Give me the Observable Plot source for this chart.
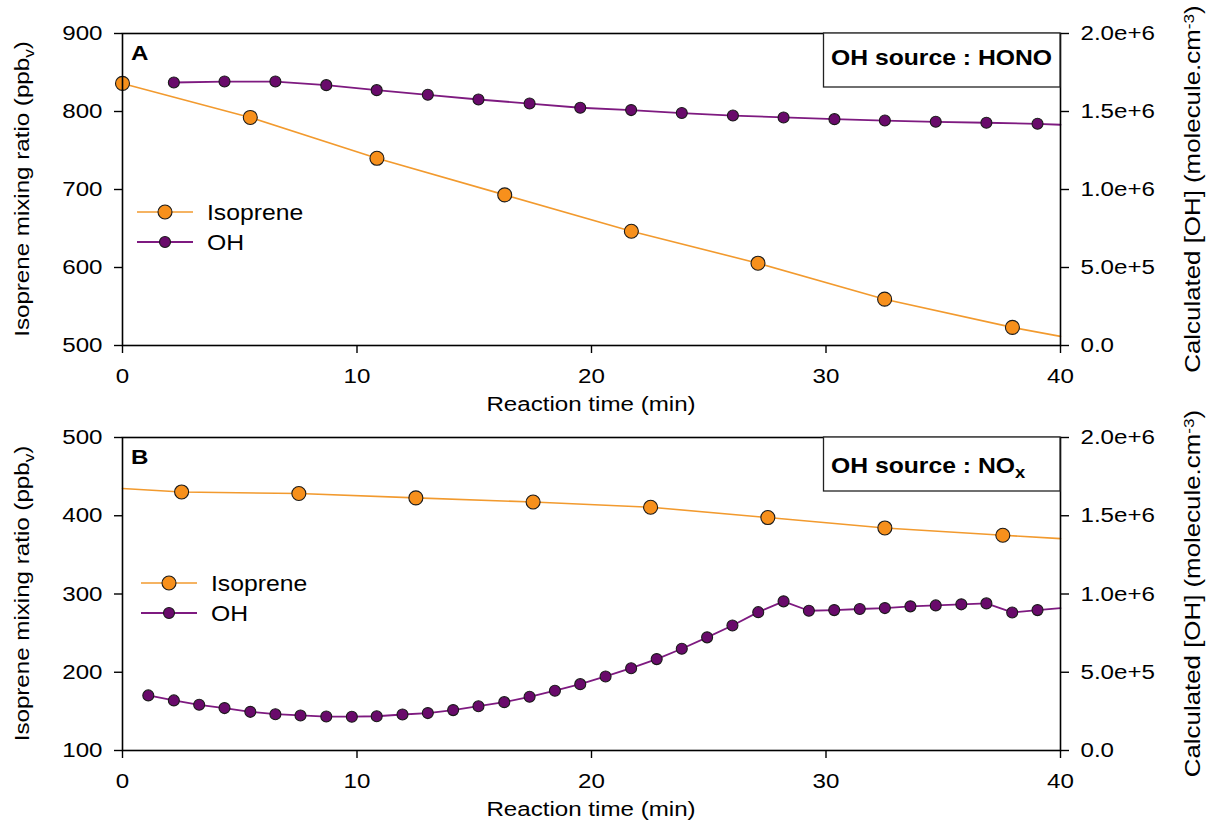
<!DOCTYPE html>
<html><head><meta charset="utf-8">
<script src="https://cdn.jsdelivr.net/npm/d3@7"></script>
<script src="https://cdn.jsdelivr.net/npm/@observablehq/plot@0.6"></script>
<style>
body{margin:0;background:#fff;}
svg{display:block;}
</style></head><body><div id="chart"></div>
<script>
// ---------- data ----------
const xTicks = [0, 10, 20, 30, 40];
const ohTicks = [0, 5e5, 1e6, 1.5e6, 2e6];
const ohTickLabels = ["0.0", "5.0e+5", "1.0e+6", "1.5e+6", "2.0e+6"];
const ohMax = 2e6;

// Panel A (OH source: HONO)
const yTicksA = [500, 600, 700, 800, 900];
const timeIsoA = [0, 5.45, 10.85, 16.3, 21.7, 27.1, 32.5, 37.95];
const isoA = [836, 792.4, 740, 693.1, 646.5, 605.5, 559.4, 523.2];
const timeOhA = [2.19, 4.35, 6.52, 8.69, 10.84, 13.02, 15.18, 17.36, 19.52, 21.69, 23.85, 26.03, 28.19, 30.36, 32.51, 34.68, 36.84, 39.02];
const ohA = [1.686e6, 1.692e6, 1.692e6, 1.669e6, 1.637e6, 1.607e6, 1.577e6, 1.551e6, 1.524e6, 1.509e6, 1.490e6, 1.474e6, 1.462e6, 1.451e6, 1.442e6, 1.434e6, 1.428e6, 1.421e6];
// curve ends (at the plot edges)
const isoEndsA = [[40, 511.7]];
const ohEndsA = [[40, 1.415e6]];

// Panel B (OH source: NOx)
const yTicksB = [100, 200, 300, 400, 500];
const timeIsoB = [2.52, 7.52, 12.51, 17.51, 22.52, 27.52, 32.51, 37.54];
const isoB = [430.4, 428.4, 422.8, 417.6, 410.9, 397.7, 384.4, 375.1];
const timeOhB = [1.10, 2.19, 3.27, 4.35, 5.45, 6.52, 7.59, 8.69, 9.78, 10.84, 11.94, 13.02, 14.10, 15.18, 16.28, 17.36, 18.44, 19.52, 20.60, 21.69, 22.78, 23.85, 24.93, 26.01, 27.11, 28.19, 29.27, 30.35, 31.44, 32.51, 33.60, 34.68, 35.77, 36.84, 37.94, 39.02];
const ohB = [3.52e5, 3.20e5, 2.92e5, 2.71e5, 2.47e5, 2.32e5, 2.24e5, 2.17e5, 2.16e5, 2.19e5, 2.30e5, 2.39e5, 2.58e5, 2.83e5, 3.09e5, 3.43e5, 3.82e5, 4.24e5, 4.73e5, 5.26e5, 5.84e5, 6.50e5, 7.23e5, 7.99e5, 8.84e5, 9.53e5, 8.93e5, 8.97e5, 9.04e5, 9.10e5, 9.21e5, 9.27e5, 9.34e5, 9.40e5, 8.82e5, 8.97e5];
const isoEndsB = [[0, 434.8], [40, 370.8]];
const ohEndsB = [[40, 9.10e5]];

// ---------- style ----------
const ORANGE_LINE = "#f29a2e", ORANGE_DOT = "#f7901c";
const PURPLE_LINE = "#7e1a80", PURPLE_DOT = "#690a6b";
const FONT = "'Liberation Sans', Arial, Helvetica, sans-serif";
const STRETCH = 1.15;

function stretchText(svg, s) {
  svg.querySelectorAll("text").forEach(t => {
    const xa = t.getAttribute("x"), ya = t.getAttribute("y");
    let tx = 0, ty = 0;
    if (xa && /^-?[\d.]+$/.test(xa)) { tx = +xa; t.removeAttribute("x"); }
    if (ya && /^-?[\d.]+$/.test(ya)) { ty = +ya; t.removeAttribute("y"); }
    const tr = t.getAttribute("transform") || "";
    t.setAttribute("transform", `${tr} translate(${tx},${ty}) scale(${s},1)`);
  });
}

function panel(cfg) {
  const [y0, y1] = cfg.yDomain;
  const toLeft = v => y0 + v / ohMax * (y1 - y0);
  const labelMap = new Map(ohTicks.map((v, i) => [Math.round(toLeft(v)), ohTickLabels[i]]));

  const iso = cfg.timeIso.map((t, i) => ({t, v: cfg.iso[i]}));
  const oh = cfg.timeOh.map((t, i) => ({t, v: toLeft(cfg.oh[i])}));
  const isoLine = [...iso, ...cfg.isoEnds.map(([t, v]) => ({t, v}))].sort((a, b) => a.t - b.t);
  const ohLine = [...oh, ...cfg.ohEnds.map(([t, v]) => ({t, v: toLeft(v)}))].sort((a, b) => a.t - b.t);

  const W = 1207;
  const svg = Plot.plot({
    width: W, height: cfg.height,
    marginLeft: 122, marginRight: 147, marginTop: cfg.marginTop, marginBottom: cfg.marginBottom,
    style: {fontFamily: FONT, fontSize: "21px", color: "#000", background: "#fff", overflow: "visible"},
    x: {domain: [0, 40]},
    y: {domain: cfg.yDomain},
    marks: [
      Plot.axisX({ticks: xTicks, tickSize: 8, tickPadding: 15, label: null, strokeWidth: 1.4}),
      Plot.axisY({ticks: cfg.yTicks, tickSize: 8, tickPadding: 12, label: null, anchor: "left", strokeWidth: 1.4}),
      Plot.axisY({ticks: ohTicks.map(toLeft), anchor: "right", tickSize: 8, tickPadding: 12, label: null, strokeWidth: 1.4,
        tickFormat: d => labelMap.get(Math.round(d))}),
      Plot.line(isoLine, {x: "t", y: "v", stroke: ORANGE_LINE, strokeWidth: 1.6}),
      Plot.line(ohLine, {x: "t", y: "v", stroke: PURPLE_LINE, strokeWidth: 1.8}),
      Plot.dot(iso, {x: "t", y: "v", r: 7, fill: ORANGE_DOT, stroke: "#1a1a1a", strokeWidth: 1.1}),
      Plot.dot(oh, {x: "t", y: "v", r: 5.5, fill: PURPLE_DOT, stroke: "#1a1a1a", strokeWidth: 1.1}),
      Plot.frame({stroke: "#000", strokeWidth: 1.6})
    ]
  });

  const g = d3.select(svg);
  const top = cfg.marginTop, bottom = cfg.height - cfg.marginBottom;
  const left = 122, right = W - 147;
  const midY = (top + bottom) / 2;

  // panel letter
  g.append("text").attr("text-anchor", "start").attr("x", 131).attr("y", top + 27).attr("font-size", 21)
    .attr("font-weight", "bold").attr("font-family", FONT).text(cfg.letter);

  // source box
  g.append("rect").attr("x", 823.5).attr("y", top).attr("width", right - 823.5).attr("height", 54)
    .attr("fill", "#fff").attr("stroke", "#222").attr("stroke-width", 1.3);
  const bt = g.append("text").attr("text-anchor", "start").attr("x", 831).attr("y", top + cfg.boxBaseline)
    .attr("font-size", 21.5).attr("font-weight", "bold").attr("font-family", FONT);
  bt.append("tspan").text(cfg.source);
  if (cfg.sourceSub) bt.append("tspan").attr("font-size", 16).attr("baseline-shift", "-30%").text(cfg.sourceSub);

  // legend
  const leg = [
    {name: "Isoprene", line: ORANGE_LINE, dot: ORANGE_DOT, r: 7},
    {name: "OH", line: PURPLE_LINE, dot: PURPLE_DOT, r: 5.5}
  ];
  leg.forEach((d, i) => {
    const yy = cfg.legendY + i * 30;
    const lx = cfg.legendX;
    g.append("line").attr("x1", lx).attr("x2", lx + 56).attr("y1", yy).attr("y2", yy)
      .attr("stroke", d.line).attr("stroke-width", d.name === "OH" ? 1.8 : 1.6);
    g.append("circle").attr("cx", lx + 28).attr("cy", yy).attr("r", d.r)
      .attr("fill", d.dot).attr("stroke", "#1a1a1a").attr("stroke-width", 1.1);
    g.append("text").attr("text-anchor", "start").attr("x", lx + 70).attr("y", yy).attr("dy", "0.36em")
      .attr("font-size", 21.5).attr("font-family", FONT).text(d.name);
  });

  // axis titles
  g.append("text").attr("text-anchor", "middle").attr("font-size", 21).attr("font-family", FONT)
    .attr("transform", `translate(${(left + right) / 2},${bottom + cfg.xTitleOffset})`)
    .text("Reaction time (min)");
  const lt = g.append("text").attr("text-anchor", "middle").attr("font-size", 21).attr("font-family", FONT)
    .attr("transform", `translate(29,${midY}) rotate(-90)`);
  lt.append("tspan").text("Isoprene mixing ratio (ppb");
  lt.append("tspan").attr("font-size", 15).attr("baseline-shift", "-30%").text("v");
  lt.append("tspan").attr("baseline-shift", "0").text(")");
  const rt = g.append("text").attr("text-anchor", "middle").attr("font-size", 22.5).attr("font-family", FONT)
    .attr("transform", `translate(1200,${midY}) rotate(-90)`);
  rt.append("tspan").text("Calculated [OH] (molecule.cm");
  rt.append("tspan").attr("font-size", 15).attr("baseline-shift", "45%").text("-3");
  rt.append("tspan").text(")");

  stretchText(svg, STRETCH);
  return svg;
}

const root = document.getElementById("chart");
root.appendChild(panel({
  letter: "A", source: "OH source : HONO", sourceSub: null, boxBaseline: 32,
  yDomain: [500, 900], yTicks: yTicksA,
  timeIso: timeIsoA, iso: isoA, isoEnds: isoEndsA,
  timeOh: timeOhA, oh: ohA, ohEnds: ohEndsA,
  height: 412, marginTop: 33, marginBottom: 67,
  legendX: 137, legendY: 212, xTitleOffset: 66
}));
root.appendChild(panel({
  letter: "B", source: "OH source : NO", sourceSub: "x", boxBaseline: 36,
  yDomain: [100, 500], yTicks: yTicksB,
  timeIso: timeIsoB, iso: isoB, isoEnds: isoEndsB,
  timeOh: timeOhB, oh: ohB, ohEnds: ohEndsB,
  height: 417, marginTop: 25, marginBottom: 79,
  legendX: 141, legendY: 583 - 412, xTitleOffset: 66
}));
</script></body></html>
